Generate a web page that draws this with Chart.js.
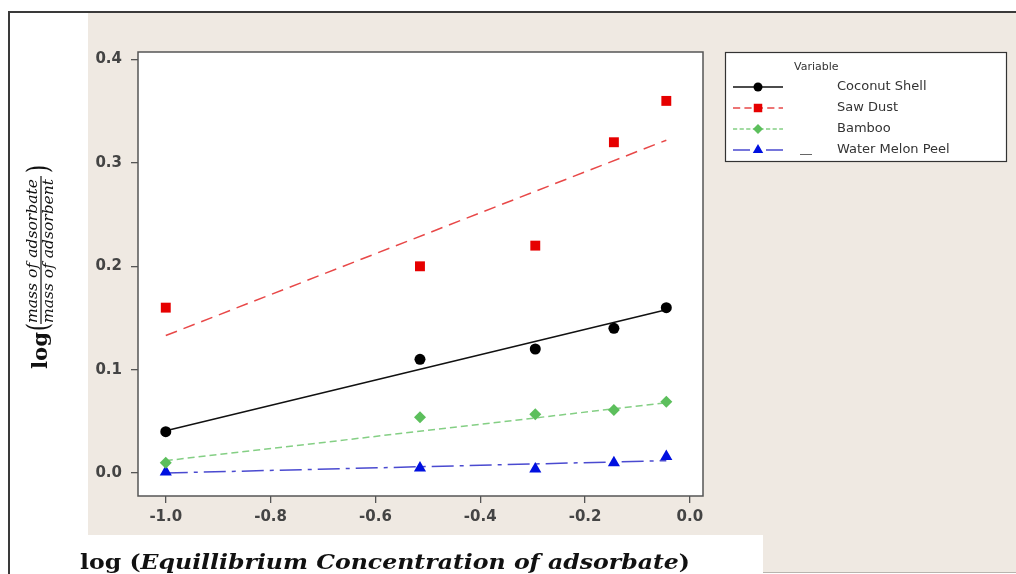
<!DOCTYPE html>
<html>
<head>
<meta charset="utf-8">
<script src="https://cdn.jsdelivr.net/npm/chart.js@4.4.1/dist/chart.umd.min.js"></script>
<style>
  html, body { margin: 0; padding: 0; background: #fff; }
  #wrap { width: 1016px; height: 574px; }
</style>
</head>
<body>
<div id="wrap"><canvas id="chart" width="1016" height="574"></canvas></div>
<script>
// valores
const xVals = [-1.0, -0.515, -0.295, -0.145, -0.045];
const coconut = [0.04, 0.11, 0.12, 0.14, 0.16];
const sawDust = [0.16, 0.20, 0.22, 0.32, 0.36];
const bamboo = [0.010, 0.054, 0.057, 0.061, 0.069];
const melon = [0.001, 0.005, 0.004, 0.010, 0.016];

// rectas de ajuste (extremos)
const fitX = [-1.0, -0.045];
const coconutFit = [0.041, 0.158];
const sawDustFit = [0.133, 0.322];
const bambooFit = [0.012, 0.068];
const melonFit = [0.000, 0.012];

const xTicks = [-1.0, -0.8, -0.6, -0.4, -0.2, 0.0];
const yTicks = [0.0, 0.1, 0.2, 0.3, 0.4];

const seriesNames = ['Coconut Shell', 'Saw Dust', 'Bamboo', 'Water Melon Peel'];

// estilos
const styles = [
    { point: '#000000', line: '#111111', shape: 'circle', r: 5.5, dash: [] },
    { point: '#e60000', line: '#e84848', shape: 'rect', r: 7, dash: [12, 7] },
    { point: '#5cbf5c', line: '#84cf84', shape: 'rectRot', r: 6, dash: [7, 4] },
    { point: '#0010e0', line: '#4a4ad0', shape: 'triangle', r: 7, dash: [22, 6, 4, 6] }
];

const toXY = (xs, ys) => xs.map((x, i) => ({ x: x, y: ys[i] }));

const pointSets = [coconut, sawDust, bamboo, melon];
const fitSets = [coconutFit, sawDustFit, bambooFit, melonFit];

const datasets = [];
pointSets.forEach((ys, i) => {
    datasets.push({
        label: seriesNames[i],
        data: toXY(xVals, ys),
        showLine: false,
        pointStyle: styles[i].shape,
        pointRadius: styles[i].r,
        pointBackgroundColor: styles[i].point,
        pointBorderColor: styles[i].point,
        pointBorderWidth: 0,
        order: 0
    });
    datasets.push({
        label: seriesNames[i] + ' fit',
        data: toXY(fitX, fitSets[i]),
        showLine: true,
        borderColor: styles[i].line,
        borderWidth: 1.5,
        borderDash: styles[i].dash,
        pointRadius: 0,
        fill: false,
        order: 1
    });
});

const tickFont = { family: 'DejaVu Sans', size: 15, weight: 'bold' };

// fondo, marco y area blanca del grafico
const backgroundPlugin = {
    id: 'background',
    beforeDraw(chart) {
        const ctx = chart.ctx;
        const a = chart.chartArea;
        ctx.save();
        ctx.fillStyle = '#ffffff';
        ctx.fillRect(0, 0, chart.width, chart.height);
        ctx.fillStyle = '#efe9e2';
        ctx.fillRect(88, 13, chart.width - 88, 559);
        ctx.fillStyle = '#ffffff';
        ctx.fillRect(75, 535, 688, 39);
        ctx.strokeStyle = '#b8b4ae';
        ctx.lineWidth = 1;
        ctx.beginPath();
        ctx.moveTo(763, 572.5);
        ctx.lineTo(chart.width, 572.5);
        ctx.stroke();
        ctx.strokeStyle = '#3a3a3a';
        ctx.lineWidth = 2;
        ctx.beginPath();
        ctx.moveTo(9, chart.height);
        ctx.lineTo(9, 12);
        ctx.lineTo(chart.width, 12);
        ctx.stroke();
        ctx.fillStyle = '#ffffff';
        ctx.fillRect(a.left, a.top, a.right - a.left, a.bottom - a.top);
        ctx.restore();
    }
};

// texto ajustado a un ancho dado
function fitText(ctx, text, x, y, width) {
    const w = ctx.measureText(text).width;
    ctx.save();
    ctx.translate(x, y);
    ctx.scale(width / w, 1);
    ctx.fillText(text, 0, 0);
    ctx.restore();
}

const annotatePlugin = {
    id: 'annotate',
    afterDraw(chart) {
        const ctx = chart.ctx;
        const a = chart.chartArea;
        ctx.save();

        // borde del area de trazado
        ctx.strokeStyle = '#555555';
        ctx.lineWidth = 1.5;
        ctx.strokeRect(a.left, a.top, a.right - a.left, a.bottom - a.top);

        // leyenda
        ctx.fillStyle = '#ffffff';
        ctx.fillRect(725, 52, 282, 110);
        ctx.strokeStyle = '#333333';
        ctx.lineWidth = 1.2;
        ctx.strokeRect(725.5, 52.5, 281, 109);
        ctx.fillStyle = '#333333';
        ctx.textBaseline = 'middle';
        ctx.textAlign = 'left';
        ctx.font = '11px "DejaVu Sans"';
        ctx.fillText('Variable', 794, 67);
        ctx.font = '13px "DejaVu Sans"';
        seriesNames.forEach((name, i) => {
            const y = 87 + i * 21;
            const s = styles[i];
            ctx.save();
            ctx.strokeStyle = s.line;
            ctx.lineWidth = 1.5;
            ctx.setLineDash(i === 3 ? [17, 6, 4, 6] : s.dash.map(d => d * 0.6));
            ctx.beginPath();
            ctx.moveTo(733, y);
            ctx.lineTo(783, y);
            ctx.stroke();
            ctx.setLineDash([]);
            ctx.fillStyle = s.point;
            ctx.strokeStyle = s.point;
            Chart.helpers.drawPoint(ctx, { pointStyle: s.shape, radius: s.r - 1, rotation: 0, borderWidth: 0 }, 758, y);
            ctx.restore();
            ctx.fillStyle = '#333333';
            ctx.fillText(name, 837, y);
        });
        ctx.strokeStyle = '#666666';
        ctx.lineWidth = 1;
        ctx.beginPath();
        ctx.moveTo(800, 154.5);
        ctx.lineTo(812, 154.5);
        ctx.stroke();

        // titulo del eje x
        ctx.fillStyle = '#111111';
        ctx.textAlign = 'left';
        ctx.textBaseline = 'alphabetic';
        ctx.font = 'bold 20px "DejaVu Serif"';
        const p1 = 'log (';
        const p3 = ')';
        const w1 = ctx.measureText(p1).width;
        const w3 = ctx.measureText(p3).width;
        ctx.font = 'italic bold 20px "DejaVu Serif"';
        const p2 = 'Equillibrium Concentration of adsorbate';
        const w2 = ctx.measureText(p2).width;
        const k = 610 / (w1 + w2 + w3);
        ctx.save();
        ctx.translate(80, 569);
        ctx.scale(k, 1);
        ctx.font = 'bold 20px "DejaVu Serif"';
        ctx.fillText(p1, 0, 0);
        ctx.font = 'italic bold 20px "DejaVu Serif"';
        ctx.fillText(p2, w1, 0);
        ctx.font = 'bold 20px "DejaVu Serif"';
        ctx.fillText(p3, w1 + w2, 0);
        ctx.restore();

        // titulo del eje y (rotado)
        ctx.save();
        ctx.translate(40, 273);
        ctx.rotate(-Math.PI / 2);
        ctx.fillStyle = '#111111';
        ctx.font = 'bold 20px "DejaVu Serif"';
        ctx.textBaseline = 'alphabetic';
        fitText(ctx, 'log', -96, 7, 37);
        ctx.font = '30px "DejaVu Serif"';
        ctx.textBaseline = 'middle';
        fitText(ctx, '(', -58, 0, 8);
        fitText(ctx, ')', 100, 0, 8);
        ctx.font = 'italic 14px "DejaVu Serif"';
        ctx.textBaseline = 'alphabetic';
        fitText(ctx, 'mass of adsorbate', -50, -3, 144);
        fitText(ctx, 'mass of adsorbent', -50, 13, 144);
        ctx.strokeStyle = '#111111';
        ctx.lineWidth = 1.2;
        ctx.beginPath();
        ctx.moveTo(-51, 1);
        ctx.lineTo(97, 1);
        ctx.stroke();
        ctx.restore();

        ctx.restore();
    }
};

new Chart(document.getElementById('chart').getContext('2d'), {
    type: 'scatter',
    data: { datasets: datasets },
    options: {
        responsive: false,
        animation: false,
        devicePixelRatio: 1,
        layout: { padding: { left: 0, top: 52, right: 313, bottom: 0 } },
        plugins: {
            legend: { display: false },
            tooltip: { enabled: false },
            title: { display: false }
        },
        scales: {
            x: {
                type: 'linear',
                min: -1.053,
                max: 0.025,
                afterFit(scale) { scale.height = 78; },
                afterBuildTicks(scale) { scale.ticks = xTicks.map(v => ({ value: v })); },
                ticks: {
                    font: tickFont,
                    color: '#444444',
                    padding: 5,
                    maxRotation: 0,
                    callback: v => v.toFixed(1)
                },
                grid: { drawOnChartArea: false, drawTicks: true, tickLength: 7, color: '#555555', lineWidth: 1.3 },
                border: { display: false }
            },
            y: {
                type: 'linear',
                min: -0.0222,
                max: 0.4073,
                afterFit(scale) { scale.width = 138; },
                afterBuildTicks(scale) { scale.ticks = yTicks.map(v => ({ value: v })); },
                ticks: {
                    font: tickFont,
                    color: '#444444',
                    padding: 9,
                    callback: v => v.toFixed(1)
                },
                grid: { drawOnChartArea: false, drawTicks: true, tickLength: 7, color: '#555555', lineWidth: 1.3 },
                border: { display: false }
            }
        }
    },
    plugins: [backgroundPlugin, annotatePlugin]
});
</script>
</body>
</html>
